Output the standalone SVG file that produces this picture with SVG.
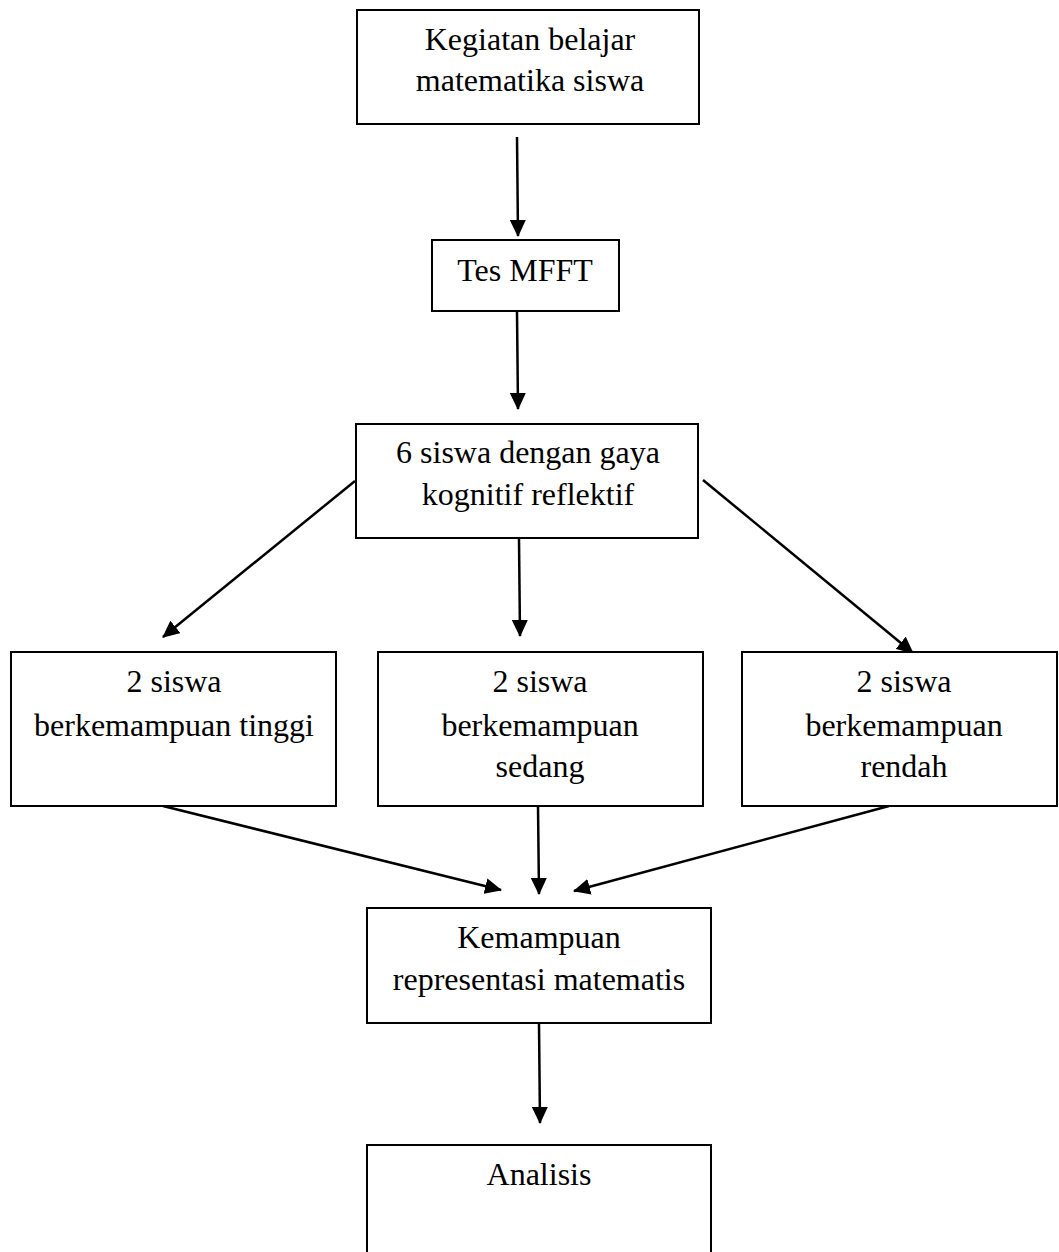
<svg xmlns="http://www.w3.org/2000/svg" width="1059" height="1252" viewBox="0 0 1059 1252">
<style>
.box{fill:#fff;stroke:#000;stroke-width:2}
.t{font-family:"Liberation Serif","Times New Roman",serif;font-size:32px;fill:#000;text-anchor:middle}
.c{stroke:#000;stroke-width:2.5;fill:none;marker-end:url(#ah)}
</style>
<defs>
<marker id="ah" markerUnits="userSpaceOnUse" markerWidth="17" markerHeight="16" refX="16" refY="8" orient="auto">
<path d="M0,0 L17,8 L0,16 Z" fill="#000"/>
</marker>
</defs>
<rect width="1059" height="1252" fill="#fff"/>
<g id="connectors">
<line class="c" x1="517" y1="137" x2="518" y2="236"/>
<line class="c" x1="517" y1="312" x2="518" y2="409"/>
<line class="c" x1="355" y1="481" x2="163" y2="637"/>
<line class="c" x1="519" y1="539" x2="520" y2="636"/>
<line class="c" x1="703" y1="480" x2="913" y2="653"/>
<line class="c" x1="163" y1="806" x2="501" y2="890"/>
<line class="c" x1="538" y1="806" x2="539" y2="894"/>
<line class="c" x1="889" y1="806" x2="574" y2="891"/>
<line class="c" x1="539" y1="1024" x2="540" y2="1123"/>
</g>
<g id="n1">
<rect class="box" x="357" y="10" width="342" height="114"/>
<text class="t" x="530" y="50">Kegiatan belajar</text>
<text class="t" x="530" y="91">matematika siswa</text>
</g>
<g id="n2">
<rect class="box" x="432" y="240" width="187" height="71"/>
<text class="t" x="525" y="281">Tes MFFT</text>
</g>
<g id="n3">
<rect class="box" x="356" y="424" width="342" height="114"/>
<text class="t" x="528" y="463">6 siswa dengan gaya</text>
<text class="t" x="528" y="505">kognitif reflektif</text>
</g>
<g id="n4">
<rect class="box" x="11" y="652" width="325" height="154"/>
<text class="t" x="174" y="692">2 siswa</text>
<text class="t" x="174" y="736">berkemampuan tinggi</text>
</g>
<g id="n5">
<rect class="box" x="378" y="652" width="325" height="154"/>
<text class="t" x="540" y="692">2 siswa</text>
<text class="t" x="540" y="736">berkemampuan</text>
<text class="t" x="540" y="777">sedang</text>
</g>
<g id="n6">
<rect class="box" x="742" y="652" width="315" height="154"/>
<text class="t" x="904" y="692">2 siswa</text>
<text class="t" x="904" y="736">berkemampuan</text>
<text class="t" x="904" y="777">rendah</text>
</g>
<g id="n7">
<rect class="box" x="367" y="908" width="344" height="115"/>
<text class="t" x="539" y="948">Kemampuan</text>
<text class="t" x="539" y="990">representasi matematis</text>
</g>
<g id="n8">
<rect class="box" x="367" y="1145" width="344" height="130"/>
<text class="t" x="539" y="1185">Analisis</text>
</g>
</svg>
